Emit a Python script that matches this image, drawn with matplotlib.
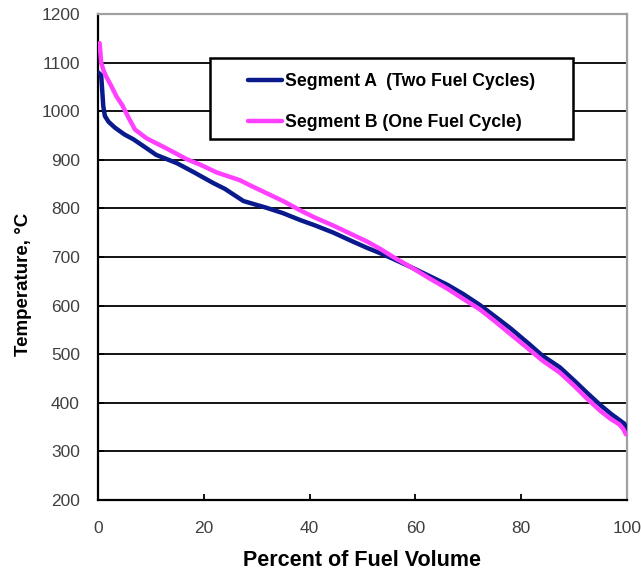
import matplotlib
matplotlib.use('Agg')
import matplotlib.pyplot as plt
from matplotlib.patches import Rectangle

plt.rcParams['font.family'] = ['Liberation Sans', 'DejaVu Sans']

# Segment A (two fuel cycles)
pct_a = [0, 0.6, 1.0, 1.3, 2.0, 3.2, 5.0, 6.7, 9.0, 11.0, 14.9, 18.0, 21.8, 24.0,
         27.5, 31.9, 35.0, 38.2, 41.0, 44.5, 47.5, 50.8, 53.3, 55.8, 59.0, 62.8,
         66.0, 69.0, 72.2, 75.0, 78.0, 81.7, 84.0, 87.3, 90.0, 92.5, 95.0, 97.0,
         98.5, 99.5, 100]
temp_a = [1080, 1074, 1010, 990, 978, 966, 952, 942, 925, 910, 893, 875, 852, 840,
          815, 801, 790, 776, 765, 750, 735, 719, 708, 696, 680, 660,
          643, 624, 601, 578, 553, 519, 497, 473, 446, 420, 395, 377,
          365, 357, 345]

# Segment B (one fuel cycle)
pct_b = [0.3, 0.6, 1.0, 1.5, 2.5, 3.5, 4.6, 5.7, 7.0, 9.2, 11.0, 13.0, 16.8, 19.3,
         22.4, 26.8, 29.0, 31.9, 35.0, 38.2, 41.0, 44.4, 47.5, 50.8, 53.3, 55.8,
         59.0, 62.8, 66.0, 69.0, 72.2, 75.0, 78.0, 81.7, 84.0, 87.3, 90.0, 92.5,
         95.0, 97.0, 98.5, 99.3, 99.8]
temp_b = [1140, 1100, 1085, 1072, 1052, 1030, 1012, 988, 962, 944, 934, 923, 901, 890,
          874, 858, 846, 831, 815, 796, 781, 765, 749, 732, 717, 700,
          680, 655, 635, 614, 592, 568, 541, 508, 487, 462, 435, 408,
          383, 366, 356, 346, 335]

fig = plt.figure(figsize=(6.41, 5.76), dpi=100)
ax = fig.add_axes([0.1529, 0.132, 0.8252, 0.8438])

ax.plot(pct_a, temp_a, color='#0a1a8c', lw=3.2, label='Segment A  (Two Fuel Cycles)',
        solid_capstyle='round', zorder=3)
ax.plot(pct_b, temp_b, color='#ff40ff', lw=3.2, label='Segment B (One Fuel Cycle)',
        solid_capstyle='round', zorder=3)

ax.set_xlim(0, 100)
ax.set_ylim(200, 1200)
ax.set_xticks(range(0, 101, 20))
ax.set_yticks(range(200, 1201, 100))
ax.yaxis.grid(True, color='black', lw=1.3)
ax.set_axisbelow(True)
ax.tick_params(axis='both', direction='in', length=4, width=1.3, colors='black',
               labelcolor='#404040', labelsize=12.5)
ax.tick_params(axis='x', pad=15)
ax.tick_params(axis='y', pad=13)

for s in ['left', 'bottom']:
    ax.spines[s].set_linewidth(1.6)
    ax.spines[s].set_color('black')
for s in ['top', 'right']:
    ax.spines[s].set_linewidth(1.6)
    ax.spines[s].set_color('#a0a0a0')

ax.set_xlabel('Percent of Fuel Volume', fontsize=15.5, fontweight='bold', labelpad=10)
ax.set_ylabel('Temperature, \u00b0C', fontsize=13.5, fontweight='bold')
ax.yaxis.set_label_coords(-0.125, 0.444)

# legend frame drawn as a box over the gridlines
ax.add_patch(Rectangle((0.212, 0.743), 0.686, 0.166, transform=ax.transAxes,
                       facecolor='white', edgecolor='black', lw=1.8, zorder=4))
leg = ax.legend(loc='upper left', bbox_to_anchor=(0.2836, 0.879), frameon=False,
                fontsize=12.7, handlelength=1.95, handletextpad=0.15,
                labelspacing=1.4, borderpad=0, borderaxespad=0)
leg.set_zorder(5)
for t in leg.get_texts():
    t.set_fontweight('bold')
for h in leg.get_lines():
    h.set_linewidth(3.2)

fig.savefig('out.png', dpi=100)
